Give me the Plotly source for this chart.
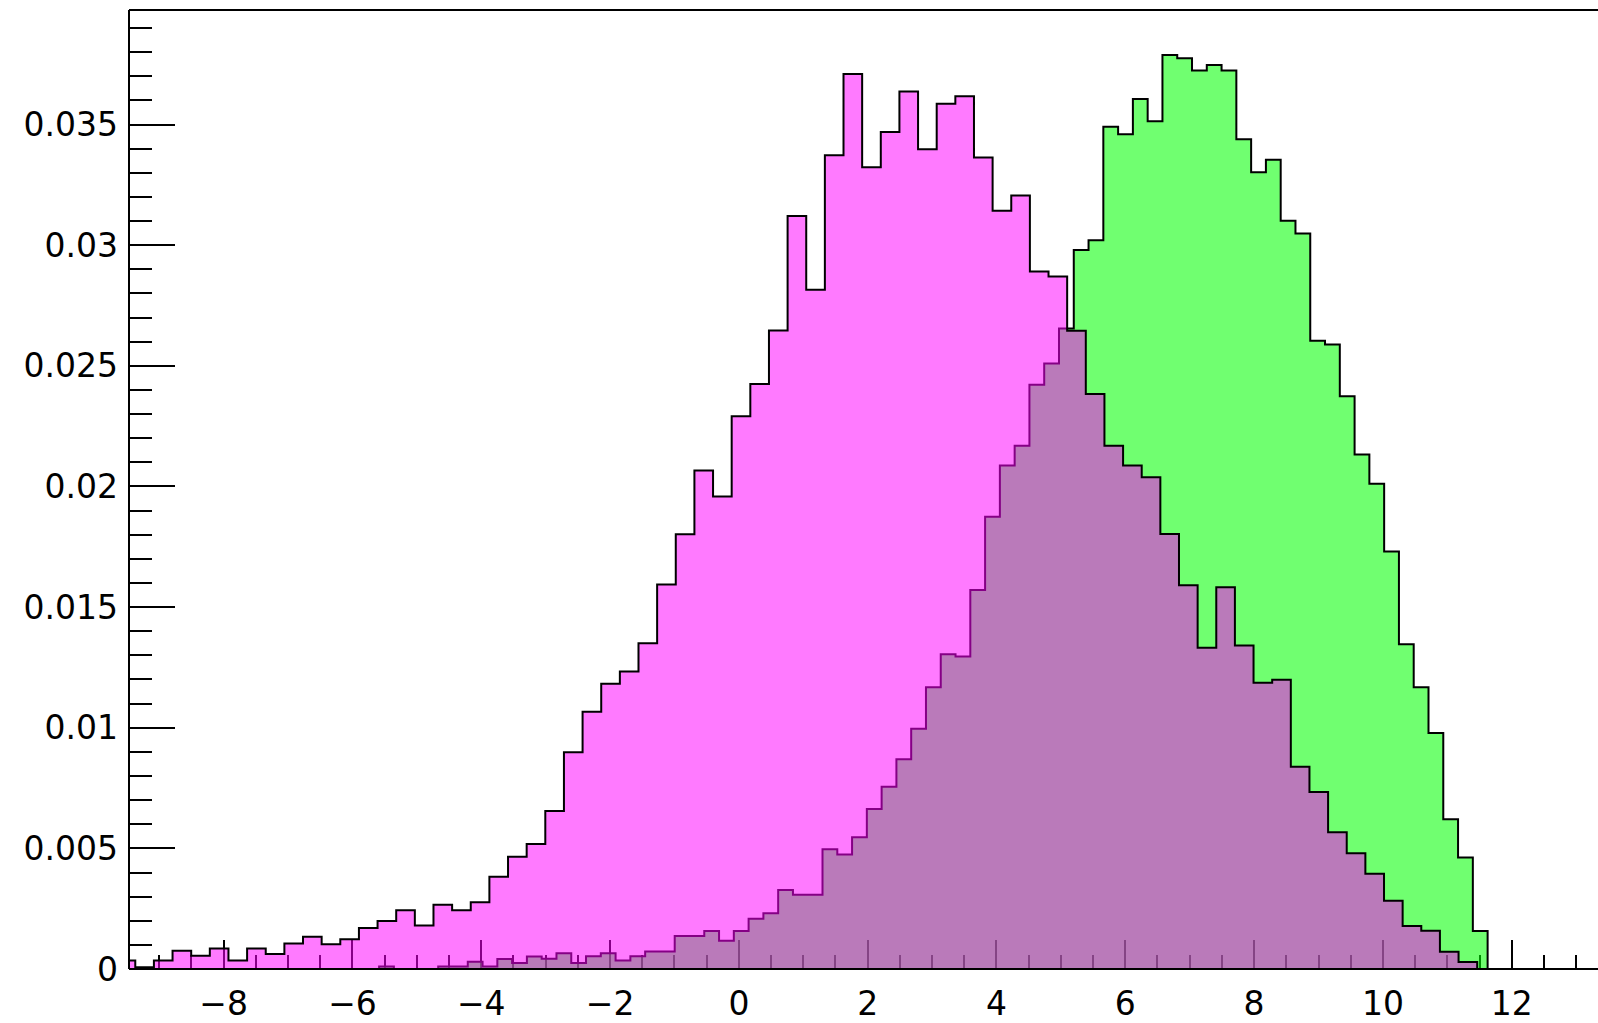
import numpy as np
import plotly.graph_objects as go

# ---------------- data ----------------
# magenta histogram: first bin left edge, bin width, bin contents
pink_first_edge = -9.662
pink_bin_width = 0.2894
pink_counts = [
    0.00035, 0.00007, 0.00035, 0.00076, 0.00055, 0.00085, 0.00035, 0.00085,
    0.00062, 0.00106, 0.00134, 0.00103, 0.00123, 0.00170, 0.00199, 0.00243,
    0.00180, 0.00266, 0.00243, 0.00277, 0.00382, 0.00465, 0.00518, 0.00655,
    0.00898, 0.01066, 0.01182, 0.01233, 0.01350, 0.01594, 0.01802, 0.02066,
    0.01959, 0.02291, 0.02425, 0.02647, 0.03121, 0.02815, 0.03373, 0.03710,
    0.03323, 0.03469, 0.03637, 0.03398, 0.03586, 0.03617, 0.03364, 0.03143,
    0.03206, 0.02891, 0.02870, 0.02645, 0.02383, 0.02169, 0.02087, 0.02038,
    0.01803, 0.01591, 0.01332, 0.01582, 0.01341, 0.01187, 0.01199, 0.00838,
    0.00734, 0.00567, 0.00480, 0.00395, 0.00283, 0.00178, 0.00159, 0.00071,
    0.00029,
]

# green histogram
green_first_edge = -5.5865
green_bin_width = 0.2295
green_counts = [
    0.00010, 0.0, 0.0, 0.0, 0.00010, 0.00010, 0.00030, 0.00010,
    0.00041, 0.00025, 0.00052, 0.00042, 0.00065, 0.00025, 0.00053, 0.00065,
    0.00035, 0.00053, 0.00073, 0.00073, 0.00137, 0.00137, 0.00157, 0.00117,
    0.00157, 0.00208, 0.00231, 0.00327, 0.00308, 0.00308, 0.00496, 0.00475,
    0.00546, 0.00663, 0.00755, 0.00869, 0.00996, 0.01168, 0.01305, 0.01295,
    0.01571, 0.01875, 0.02087, 0.02169, 0.02422, 0.02510, 0.02655, 0.02980,
    0.03021, 0.03491, 0.03460, 0.03606, 0.03514, 0.03788, 0.03775, 0.03724,
    0.03747, 0.03724, 0.03439, 0.03302, 0.03354, 0.03101, 0.03049, 0.02604,
    0.02588, 0.02374, 0.02133, 0.02011, 0.01730, 0.01346, 0.01168, 0.00978,
    0.00621, 0.00462, 0.00157,
]

x_tick_values = [-8, -6, -4, -2, 0, 2, 4, 6, 8, 10, 12]
x_tick_labels = ["\u22128", "\u22126", "\u22124", "\u22122", "0", "2", "4", "6", "8", "10", "12"]
y_tick_values = [0, 0.005, 0.01, 0.015, 0.02, 0.025, 0.03, 0.035]
y_tick_labels = ["0", "0.005", "0.01", "0.015", "0.02", "0.025", "0.03", "0.035"]

x_range = [-9.47, 13.34]
y_range = [0, 0.03975]


def step_outline(first_edge, width, counts):
    edges = first_edge + width * np.arange(len(counts) + 1)
    xs = [edges[0]] + list(edges[:-1]) + [edges[-1]]
    ys = [0.0] + list(counts) + [0.0]
    return xs, ys


gx, gy = step_outline(green_first_edge, green_bin_width, green_counts)
px, py = step_outline(pink_first_edge, pink_bin_width, pink_counts)

fig = go.Figure()
fig.add_trace(go.Scatter(
    x=gx, y=gy, mode="lines", fill="tozeroy",
    fillcolor="rgba(0,255,0,0.56)",
    line=dict(color="black", width=2, shape="hv"),
    hoverinfo="skip", showlegend=False,
))
fig.add_trace(go.Scatter(
    x=px, y=py, mode="lines", fill="tozeroy",
    fillcolor="rgba(255,0,255,0.52)",
    line=dict(color="black", width=2, shape="hv"),
    hoverinfo="skip", showlegend=False,
))

axis_font = dict(family="DejaVu Sans", size=33, color="black")

fig.update_layout(
    width=1598, height=1023,
    margin=dict(l=129, r=0, t=10, b=46, pad=0),
    paper_bgcolor="white", plot_bgcolor="white",
    showlegend=False,
    xaxis=dict(
        range=x_range, showgrid=False, zeroline=False, showline=False,
        tickmode="array", tickvals=x_tick_values, ticktext=x_tick_labels,
        ticks="inside", ticklen=29, tickwidth=2, tickcolor="black",
        minor=dict(tickmode="linear", tick0=0, dtick=0.5, ticks="inside",
                   ticklen=14, tickwidth=2, tickcolor="black", showgrid=False),
        tickfont=axis_font, layer="below traces", ticklabelstandoff=12,
        fixedrange=True,
    ),
    yaxis=dict(
        range=y_range, showgrid=False, zeroline=False, showline=False,
        tickmode="array", tickvals=y_tick_values, ticktext=y_tick_labels,
        ticks="inside", ticklen=46, tickwidth=2, tickcolor="black",
        minor=dict(tickmode="linear", tick0=0, dtick=0.001, ticks="inside",
                   ticklen=23, tickwidth=2, tickcolor="black", showgrid=False),
        tickfont=axis_font, layer="below traces", ticklabelstandoff=10,
        fixedrange=True,
    ),
    shapes=[
        dict(type="line", xref="paper", yref="paper", x0=0, x1=0, y0=0, y1=1,
             line=dict(color="black", width=2), layer="above"),
        dict(type="line", xref="paper", yref="paper", x0=0, x1=1, y0=0, y1=0,
             line=dict(color="black", width=2), layer="above"),
        dict(type="line", xref="paper", yref="paper", x0=0, x1=1, y0=1, y1=1,
             line=dict(color="black", width=2), layer="above"),
    ],
)

fig.write_html("out.html", config={"displayModeBar": False})
